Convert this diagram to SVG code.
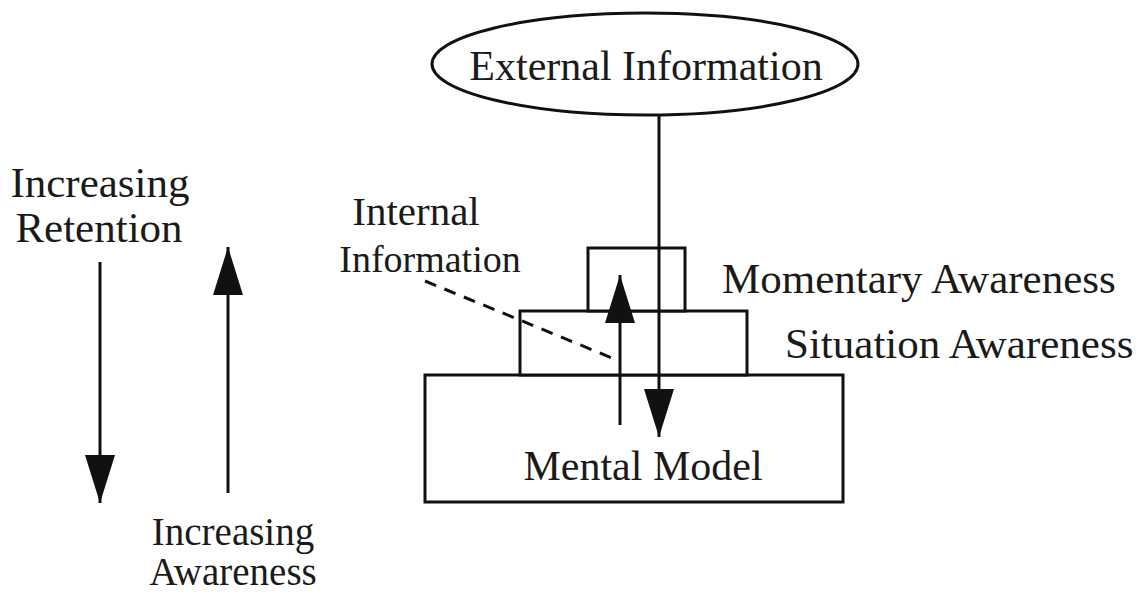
<svg xmlns="http://www.w3.org/2000/svg" width="1142" height="595" viewBox="0 0 1142 595">
<style>
text{font-family:"Liberation Serif","Times New Roman",serif;font-size:42px;fill:#1a1a1a}
.l{font-size:43px}
.a{font-size:39px}
.s{fill:none;stroke:#111;stroke-width:3}
.b{fill:#fff;stroke:#111;stroke-width:3}
</style>
<defs>
<marker id="ah" viewBox="0 0 48 30" refX="48" refY="15" markerWidth="48" markerHeight="30" markerUnits="userSpaceOnUse" orient="auto"><path d="M0,0 L48,15 L0,30 Z" fill="#111"/></marker>
</defs>
<rect width="1142" height="595" fill="#fff"/>
<g id="mental-model"><rect class="b" x="425" y="375" width="418" height="127"/><text x="643" y="480" text-anchor="middle">Mental Model</text></g>
<g id="situation-awareness"><rect class="b" x="520" y="311" width="227" height="64"/><text class="l" x="785" y="358">Situation Awareness</text></g>
<g id="momentary-awareness"><rect class="b" x="588" y="248" width="97" height="63"/><text class="l" x="722" y="293">Momentary Awareness</text></g>
<g id="external-information"><ellipse class="b" cx="645" cy="64" rx="213" ry="51"/><text x="646" y="80" text-anchor="middle">External Information</text></g>
<g id="internal-information"><text x="416" y="225" style="font-size:41px" text-anchor="middle">Internal</text><text x="430" y="272" style="font-size:38px" text-anchor="middle">Information</text></g>
<g id="increasing-retention"><text class="l" x="100" y="197" text-anchor="middle">Increasing</text><text class="l" x="99" y="242" text-anchor="middle">Retention</text></g>
<g id="increasing-awareness"><text class="a" x="233" y="545" text-anchor="middle">Increasing</text><text class="a" x="233" y="585" text-anchor="middle">Awareness</text></g>
<g id="connectors">
<line class="s" x1="659" y1="115" x2="659" y2="437" marker-end="url(#ah)"/>
<line class="s" x1="620" y1="425" x2="620" y2="275" marker-end="url(#ah)"/>
<line class="s" x1="425" y1="281" x2="612" y2="358" stroke-dasharray="12 9"/>
<line class="s" x1="100" y1="262" x2="100" y2="503" marker-end="url(#ah)"/>
<line class="s" x1="228" y1="493" x2="228" y2="247" marker-end="url(#ah)"/>
</g>
</svg>
